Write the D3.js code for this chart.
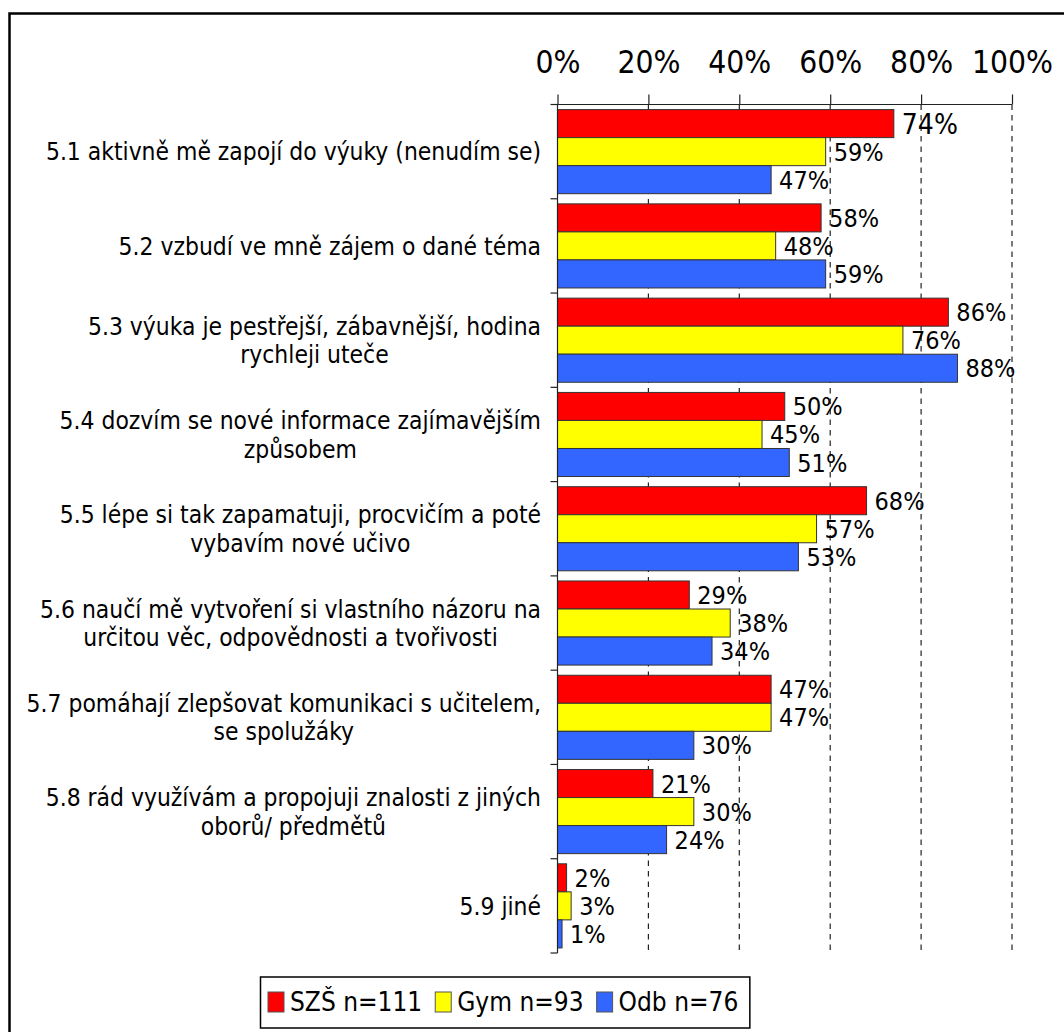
<!DOCTYPE html>
<html>
<head>
<meta charset="utf-8">
<script src="https://cdn.jsdelivr.net/npm/d3@7"></script>
<style>
  html, body { margin: 0; padding: 0; background: #fff; }
  svg { display: block; }
  text { font-family: "DejaVu Sans Condensed", "DejaVu Sans", sans-serif; font-stretch: condensed; fill: #000; }
</style>
</head>
<body>
<svg id="chart" width="1064" height="1032"></svg>
<script>
// Category labels, one array entry per text line
const categoryLines = [
  ["5.1 aktivně mě zapojí do výuky (nenudím se)"],
  ["5.2 vzbudí ve mně zájem o dané téma"],
  ["5.3 výuka je pestřejší, zábavnější, hodina", "rychleji uteče"],
  ["5.4 dozvím se nové informace zajímavějším", "způsobem"],
  ["5.5 lépe si tak zapamatuji, procvičím a poté", "vybavím nové učivo"],
  ["5.6 naučí mě vytvoření si vlastního názoru na", "určitou věc, odpovědnosti a tvořivosti"],
  ["5.7 pomáhají zlepšovat komunikaci s učitelem,", "se spolužáky"],
  ["5.8 rád využívám a propojuji znalosti z jiných", "oborů/ předmětů"],
  ["5.9 jiné"]
];

const seriesNames = ["SZŠ n=111", "Gym n=93", "Odb n=76"];
const seriesColors = ["#ff0000", "#ffff00", "#3366ff"];

// Percent of respondents per category
const szsValues = [74, 58, 86, 50, 68, 29, 47, 21, 2];
const gymValues = [59, 48, 76, 45, 57, 38, 47, 30, 3];
const odbValues = [47, 59, 88, 51, 53, 34, 30, 24, 1];

const tickValues = [0, 20, 40, 60, 80, 100];

const seriesValues = [szsValues, gymValues, odbValues];

const svg = d3.select("#chart");

// outer frame (right and bottom edges fall outside the view)
svg.append("rect")
  .attr("x", 9.5).attr("y", 13.5)
  .attr("width", 1200).attr("height", 1200)
  .attr("fill", "none").attr("stroke", "#000").attr("stroke-width", 2.5);

const plot = { left: 557.5, right: 1012, top: 104.5, bottom: 953 };

const x = d3.scaleLinear().domain([0, 100]).range([plot.left, plot.right]);
const y = d3.scaleBand()
  .domain(d3.range(categoryLines.length))
  .range([plot.top, plot.bottom])
  .paddingInner(0.108)
  .paddingOuter(0.054);
const ySub = d3.scaleBand()
  .domain(d3.range(seriesNames.length))
  .range([0, y.bandwidth()]);

// dashed vertical gridlines
svg.append("g")
  .selectAll("line")
  .data(tickValues.filter(v => v > 0))
  .join("line")
  .attr("x1", d => x(d)).attr("x2", d => x(d))
  .attr("y1", plot.top).attr("y2", plot.bottom)
  .attr("stroke", "#222").attr("stroke-width", 1.2)
  .attr("stroke-dasharray", "5.5,5");

// top value axis
const xAxis = d3.axisTop(x)
  .tickValues(tickValues)
  .tickFormat(d => d + "%")
  .tickSize(10)
  .tickSizeOuter(0)
  .tickPadding(22);
const gx = svg.append("g")
  .attr("transform", `translate(0,${plot.top})`)
  .call(xAxis);
gx.select(".domain").remove();
gx.selectAll(".tick line").attr("stroke", "#222").attr("stroke-width", 1.2);
gx.selectAll(".tick text")
  .style("font-family", '"DejaVu Sans Condensed", "DejaVu Sans", sans-serif')
  .style("font-size", "31.5px").attr("fill", "#000");
gx.append("line")
  .attr("x1", plot.left - 6).attr("x2", plot.right)
  .attr("y1", 0).attr("y2", 0)
  .attr("stroke", "#222").attr("stroke-width", 1.2);

// bars
const groups = svg.append("g")
  .selectAll("g")
  .data(categoryLines.map((c, i) => i))
  .join("g")
  .attr("transform", i => `translate(0,${y(i)})`);

groups.selectAll("rect")
  .data(i => seriesValues.map((vals, s) => ({ s, v: vals[i], cat: i })))
  .join("rect")
  .attr("x", x(0))
  .attr("y", d => ySub(d.s))
  .attr("width", d => x(d.v) - x(0))
  .attr("height", ySub.bandwidth())
  .attr("fill", d => seriesColors[d.s])
  .attr("stroke", "#333").attr("stroke-width", 1);

// value labels at bar ends
groups.selectAll("text.val")
  .data(i => seriesValues.map((vals, s) => ({ s, v: vals[i], cat: i })))
  .join("text")
  .attr("class", "val")
  .attr("x", d => x(d.v) + 8)
  .attr("y", d => ySub(d.s) + ySub.bandwidth() / 2)
  .attr("dy", "0.36em")
  .style("font-size", d => (d.cat === 0 && d.s === 0) ? "28px" : "25px")
  .text(d => d.v + "%");

// category axis line with ticks at band boundaries
const step = y.step();
const boundaries = d3.range(categoryLines.length + 1).map(i => plot.top + i * step);
svg.append("line")
  .attr("x1", plot.left).attr("x2", plot.left)
  .attr("y1", plot.top).attr("y2", plot.bottom)
  .attr("stroke", "#222").attr("stroke-width", 1.2);
svg.append("g")
  .selectAll("line")
  .data(boundaries)
  .join("line")
  .attr("x1", plot.left - 7).attr("x2", plot.left)
  .attr("y1", d => d).attr("y2", d => d)
  .attr("stroke", "#222").attr("stroke-width", 1.2);

// category labels: wrapped lines centred within a block that is right-aligned to the axis
const labelRight = 541;
const lineH = 28.5;
const labelSize = 24.4;
const labels = svg.append("g");
categoryLines.forEach((lines, i) => {
  const g = labels.append("g");
  const cy = y(i) + y.bandwidth() / 2;
  const texts = lines.map((ln, k) => g.append("text")
    .style("font-size", labelSize + "px")
    .attr("text-anchor", "middle")
    .attr("y", cy + (k - (lines.length - 1) / 2) * lineH)
    .attr("dy", "0.36em")
    .text(ln));
  const maxW = d3.max(texts, t => t.node().getComputedTextLength());
  texts.forEach(t => t.attr("x", labelRight - maxW / 2));
});

// legend
const legend = svg.append("g");
const legendBox = legend.append("rect")
  .attr("fill", "#fff").attr("stroke", "#000").attr("stroke-width", 1.5);
let lx = 268;
const legendY = 1002;
seriesNames.forEach((name, s) => {
  legend.append("rect")
    .attr("x", lx).attr("y", legendY - 10)
    .attr("width", 16).attr("height", 20)
    .attr("fill", seriesColors[s]).attr("stroke", "#555").attr("stroke-width", 1);
  const t = legend.append("text")
    .attr("x", lx + 22).attr("y", legendY)
    .attr("dy", "0.36em")
    .style("font-size", "26px")
    .text(name);
  lx += 22 + t.node().getComputedTextLength() + 13;
});
legendBox.attr("x", 260.5).attr("y", 977).attr("width", lx - 260 - 2).attr("height", 51);
</script>
</body>
</html>
